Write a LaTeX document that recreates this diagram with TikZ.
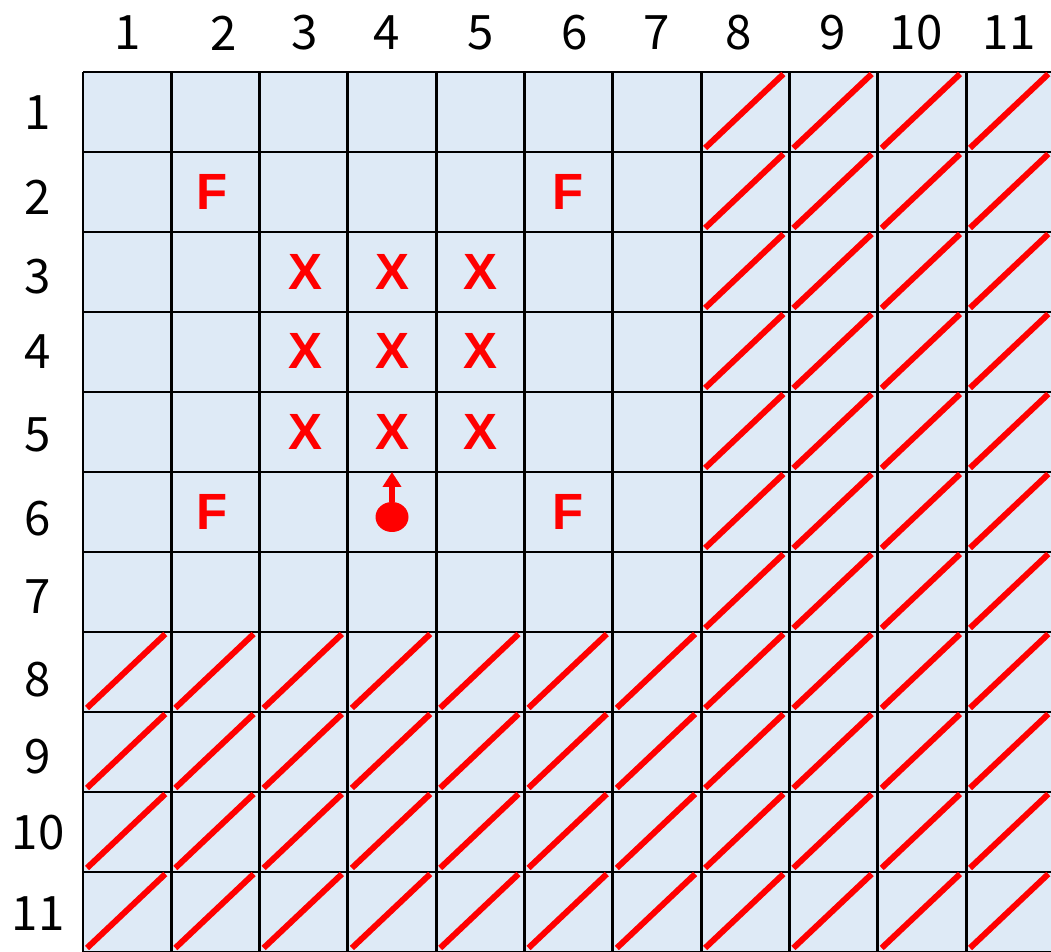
\documentclass[tikz,border=0pt]{standalone}
\usepackage{fontspec}
\setmainfont{Liberation Sans}
\newfontfamily\numfont{Noto Sans CJK JP}
\usetikzlibrary{arrows.meta,shapes.geometric}
\definecolor{cellblue}{HTML}{DEEAF6}
\definecolor{markred}{HTML}{FF0000}

\begin{document}
\begin{tikzpicture}[x=0.02cm, y=-0.02cm,
  lbl/.style={font=\numfont\fontsize{27}{30}\selectfont},
  sym/.style={text=markred, font=\bfseries\fontsize{29}{32}\selectfont},
  gridline/.style={black, line width=1.7pt},
  hatch/.style={markred, line width=3.4pt}]
\clip (0,0) rectangle (1051,952);

% Cells
\fill[cellblue] (83,72) rectangle (1060,960);

% Grid lines
\foreach \i in {0,...,11} {
    \draw[gridline] ({83+88.3*\i},72) -- ({83+88.3*\i},960);
    \draw[gridline] (83,{72+80*\i}) -- (1060,{72+80*\i});
}

% Hatched cells - columns 8 to 11
\foreach \c in {8,...,11} {
    \foreach \r in {1,...,11} {
        \draw[hatch] ({83+88.3*(\c-1)+4},{72+80*\r-4}) -- ({83+88.3*\c-6},{72+80*(\r-1)+2});
    }
}
% Hatched cells - rows 8 to 11
\foreach \c in {1,...,7} {
    \foreach \r in {8,...,11} {
        \draw[hatch] ({83+88.3*(\c-1)+4},{72+80*\r-4}) -- ({83+88.3*\c-6},{72+80*(\r-1)+2});
    }
}

% Column numbers
\foreach \x/\n in {128/1, 224/2, 305/3, 387/4, 481/5, 575/6, 657/7, 739/8, 833/9, 916/10, 1009/11} {
    \node[lbl] (col\n) at (\x,33) {\n};
}
% Row numbers
\foreach \y/\n in {113/1, 197/2, 277/3, 352/4, 435/5, 519/6, 597/7, 680/8, 757/9, 833/10, 914/11} {
    \node[lbl] (row\n) at (38,\y) {\n};
}

% F marks
\node[sym] (f22) at (212,192) {F};
\node[sym] (f62) at (568,192) {F};
\node[sym] (f26) at (212,512) {F};
\node[sym] (f66) at (568,512) {F};

% X marks
\foreach \x/\c in {305/3, 392/4, 480/5} {
    \foreach \y/\r in {272/3, 351/4, 432/5} {
        \node[sym] (x\c\r) at (\x,\y) {X};
    }
}

% Robot
\node[ellipse, fill=markred, inner sep=0pt, minimum width=0.66cm, minimum height=0.6cm] (robot) at (392,517) {};
\coordinate (head) at (392,472);
\draw[markred, line width=3.4pt, -{Triangle[length=0.3cm, width=0.36cm]}] (robot) -- (head);

\end{tikzpicture}
\end{document}
